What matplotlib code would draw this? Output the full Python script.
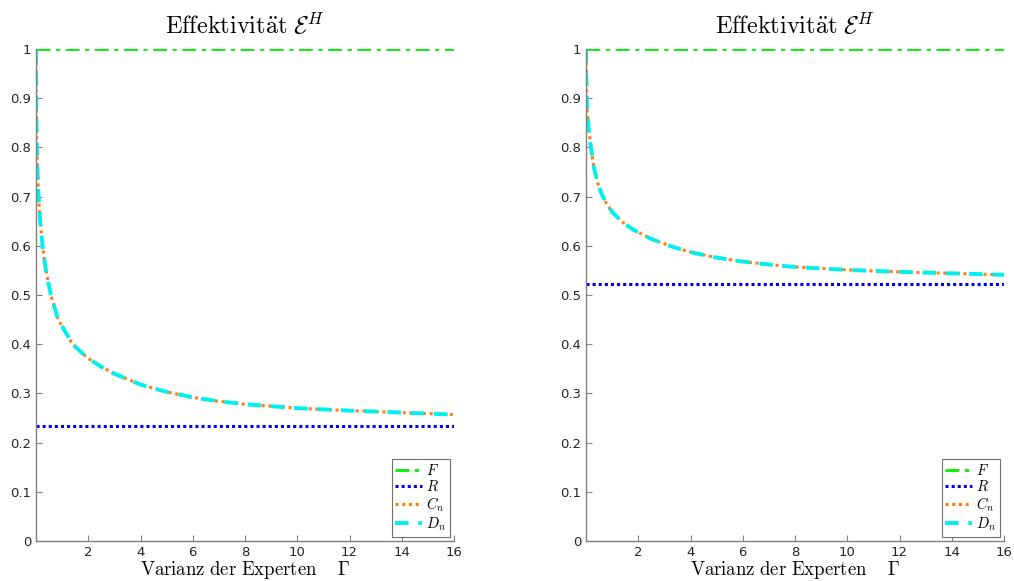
import numpy as np
import matplotlib
matplotlib.use('Agg')
import matplotlib.pyplot as plt

plt.rcParams['mathtext.fontset'] = 'cm'
plt.rcParams['font.family'] = 'DejaVu Sans'

# Werte
gamma_links = [0, 0.01, 0.03, 0.06, 0.1, 0.16, 0.25, 0.38, 0.57, 0.85, 1.4, 1.97,
               2.5, 3, 4, 5, 6, 7, 8, 10, 12, 14, 16]
cn_links = [1.0, 0.9, 0.8, 0.75, 0.70, 0.65, 0.60, 0.55, 0.50, 0.45, 0.40, 0.372,
            0.354, 0.340, 0.318, 0.303, 0.292, 0.284, 0.278, 0.27, 0.265, 0.261, 0.257]
r_links = 0.233

gamma_rechts = [0, 0.01, 0.03, 0.05, 0.1, 0.19, 0.3, 0.45, 0.6, 0.8, 1.03, 1.4,
                1.83, 2.5, 3.2, 4, 5, 6, 7, 8, 10, 12, 14, 16]
cn_rechts = [1.0, 0.95, 0.90, 0.87, 0.84, 0.80, 0.76, 0.727, 0.705, 0.684, 0.667, 0.648,
             0.632, 0.614, 0.60, 0.587, 0.576, 0.568, 0.562, 0.557, 0.551, 0.547, 0.544, 0.541]
r_rechts = 0.523

f_wert = 1.0
x_ticks = [2, 4, 6, 8, 10, 12, 14, 16]
y_ticks = [0, 0.1, 0.2, 0.3, 0.4, 0.5, 0.6, 0.7, 0.8, 0.9, 1]
y_labels = ['0', '0.1', '0.2', '0.3', '0.4', '0.5', '0.6', '0.7', '0.8', '0.9', '1']

fig = plt.figure(figsize=(10.14, 5.81), dpi=100)
ax1 = fig.add_axes([36 / 1014, 40 / 581, 418 / 1014, 492 / 581])
ax2 = fig.add_axes([586 / 1014, 40 / 581, 418 / 1014, 492 / 581])


def zeichne(ax, gamma, cn, r):
    ax.plot([0, 16], [f_wert, f_wert], color='#00ee00', lw=2, ls=(0, (5, 2, 1.5, 2)), label='$F$')
    ax.plot([0, 16], [r, r], color='#0000ee', lw=2.2, ls=(0, (1, 1)), label='$R$')
    ax.plot(gamma, cn, color='#ff7f0e', lw=2.2, ls=(0, (1, 1.2)), label='$C_n$')
    ax.plot(gamma, cn, color='#00f0f0', lw=2.8, ls=(0, (3.5, 2.5)), label='$D_n$')
    ax.set_xlim(0, 16)
    ax.set_ylim(0, 1)
    ax.set_xticks(x_ticks)
    ax.set_yticks(y_ticks)
    ax.set_yticklabels(y_labels)
    ax.tick_params(direction='in', length=4, width=0.8, colors='#808080',
                   labelcolor='#262626', labelsize=9.5)
    for s in ['top', 'right']:
        ax.spines[s].set_visible(False)
    for s in ['left', 'bottom']:
        ax.spines[s].set_color('#808080')
        ax.spines[s].set_linewidth(1)
    ax.set_title(r'$\mathrm{Effektivit\ddot{a}t}\ \mathcal{E}^H$', fontsize=17.5, pad=11)
    ax.set_xlabel(r'$\mathrm{Varianz\ der\ Experten}\quad\ \Gamma$', fontsize=13.5, labelpad=0)
    leg = ax.legend(loc='lower right', fontsize=10.5, handlelength=1.8, handletextpad=0.3,
                    borderpad=0.25, labelspacing=0.1, borderaxespad=0.3,
                    fancybox=False, framealpha=1)
    leg.get_frame().set_edgecolor('#707070')
    leg.get_frame().set_linewidth(0.8)


zeichne(ax1, gamma_links, cn_links, r_links)
zeichne(ax2, gamma_rechts, cn_rechts, r_rechts)

fig.savefig('out.png', dpi=100)
